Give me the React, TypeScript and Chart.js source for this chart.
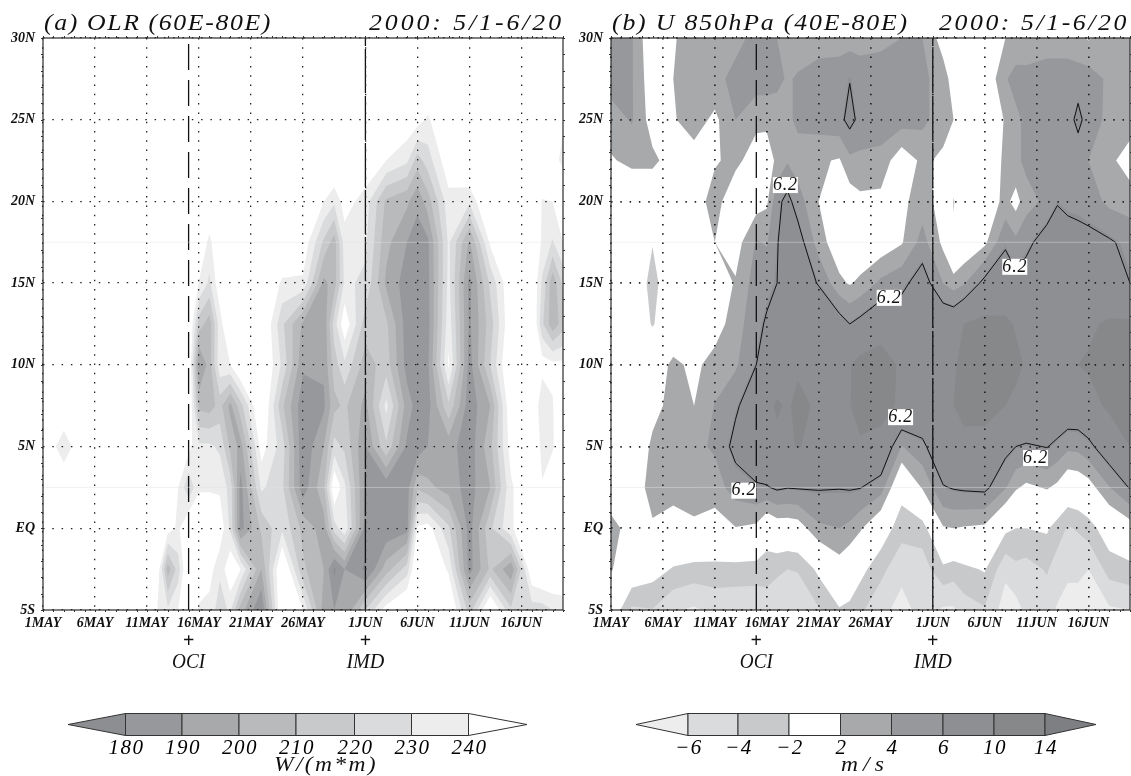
import React, { useEffect, useRef } from "react";
import { Chart, registerables } from "chart.js";

Chart.register(...registerables);

const FONT = '"Liberation Serif"';
const W = 255;

const tickDays = [0, 5, 10, 15, 20, 25, 31, 36, 41, 46];
const tickDates = ["1MAY", "6MAY", "11MAY", "16MAY", "21MAY", "26MAY", "1JUN", "6JUN", "11JUN", "16JUN"];
const latTicks = [30, 25, 20, 15, 10, 5, 0, -5];
const latNames = ["30N", "25N", "20N", "15N", "10N", "5N", "EQ", "5S"];
const lats = [30, 27.5, 25, 22.5, 20, 17.5, 15, 12.5, 10, 7.5, 5, 2.5, 0, -2.5, -5];
const onsetDays = [14, 31];
const onsetNames = ["OCI", "IMD"];
const onsetWidths = [33, 38];

const olrDays = [0, 2, 4, 10, 11, 12, 13, 14, 15, 16, 17, 18, 19, 21, 23, 25, 27, 28, 29, 31, 33, 35, 36, 37, 39, 41, 43, 45, 47, 48, 49, 50];
const olr30 = [W, W, W, W, W, W, W, W, W, W, W, W, W, W, W, W, W, W, W, W, W, W, W, W, W, W, W, W, W, W, W, W];
const olr275 = [W, W, W, W, W, W, W, W, W, W, W, W, W, W, W, W, W, W, W, W, W, W, W, W, W, W, W, W, W, W, W, W];
const olr25 = [W, W, W, W, W, W, W, W, W, W, W, W, W, W, W, W, W, W, W, W, W, 248, 245, 238, W, W, W, W, W, W, W, 241];
const olr225 = [W, W, W, W, W, W, W, W, W, W, W, W, W, W, W, W, W, W, W, 250, 240, 232, 215, 225, 248, W, W, W, W, W, 243, 238];
const olr20 = [W, W, W, W, W, W, W, W, W, W, W, W, W, W, W, 250, 240, 232, 245, 235, 208, 202, 192, 205, 236, 232, W, W, W, 239, 240, 250];
const olr175 = [W, W, W, W, W, W, W, W, W, 236, W, W, W, W, 254, 248, 218, 205, 235, 232, 203, 190, 186, 188, 232, 198, 242, W, W, 238, 229, 240];
const olr15 = [W, W, W, W, W, W, W, W, 239, 228, 248, W, W, W, 238, 238, 197, 205, 232, 228, 198, 185, 184, 187, 233, 187, 222, 250, 252, 228, 203, 222];
const olr125 = [W, W, W, W, W, W, W, W, 215, 205, 235, W, W, W, 222, 198, 192, 225, 248, 215, 212, 185, 183, 186, 236, 188, 215, 250, W, 222, 203, 215];
const olr10 = [W, W, W, W, W, W, W, W, 188, 205, 237, 240, W, W, 228, 192, 192, 215, 228, 205, 215, 186, 184, 188, 242, 186, 220, W, W, 245, 243, 243];
const olr75 = [W, W, W, W, W, W, W, W, 207, 205, 214, 197, 216, W, 212, 183, 188, 207, 212, 197, 233, 195, 186, 186, 218, 184, 200, 250, W, 230, 239, W];
const olr5 = [W, 230.5, W, W, W, W, W, 244, 232, 232, 228, 208, 196, 245, 225, 182, 200, 224, 218, 190, 218, 188, 184, 190, 194, 184, 207, 245, W, 236, 238, W];
const olr25n = [W, W, W, W, W, W, 240, 222, 238, 238, 238, 226, 186, 232, 222, 184, 208, 252, 232, 188, 183, 186, 208, 203, 195, 186, 200, 238, W, 241, W, W];
const olr0 = [W, W, W, W, W, 245, 238, 252, W, W, 248, 228, 186, 212, 228, 207, 195, 225, 238, 186, 182, 186, 242, 245, 222, 186, 218, 238, W, W, 240, W];
const olrS25 = [W, W, W, W, 248, 205, 225, W, 250, 245, 232, 250, 240, 200, W, 212, 200, 178, 190, 178, 205, 225, W, W, 238, 186, 212, 192, 250, W, W, W];
const olrS5 = [W, W, W, W, 240, 232, 240, W, 238, 236, 225, 232, 205, 180, W, 240, 195, 190, 190, 220, 245, W, W, W, W, 215, W, 222, 225, 225, 230, 232];
const olrGrid = [olr30, olr275, olr25, olr225, olr20, olr175, olr15, olr125, olr10, olr75, olr5, olr25n, olr0, olrS25, olrS5];

const uDays = [0, 2, 4, 6, 8, 10, 12, 14, 15, 16, 17, 18, 20, 22, 23, 24, 26, 28, 30, 32, 33, 34, 36, 38, 39, 40, 42, 43, 44, 45, 46, 48, 50];
const u30 = [5, 4.2, 0, 1.8, 3, 3, 3.5, 4.5, 4.5, 4, 3.5, 3, 3, 3, 3, 3, 3.5, 4, 4, 1, 0, 0, 0, 2, 2.5, 2, 3, 3, 3, 2.5, 1.8, 3, 3];
const u275 = [5, 4.2, 0.5, 2, 3.8, 3.5, 4.5, 5, 5, 4.5, 3.8, 4.2, 5, 5.2, 6.1, 5.3, 5, 5, 4.5, 3, 1, 0, 0, 3.8, 4.8, 5, 5, 5, 5, 5, 5, 3.6, 3];
const u25 = [3, 4.2, 1, 1.8, 3, 1.5, 4, 2.5, 2.5, 3, 3.5, 4.5, 5, 5.5, 7, 5.5, 5.2, 5, 4.5, 3, 2, 0.8, 0, 2.2, 3.5, 4.5, 5, 5, 5, 7, 5, 3.5, 3];
const u225 = [1.8, 2.5, 2.5, 1, 1, 1.8, 2.5, 1, 0.8, 2.5, 3.8, 3, 2.3, 1.8, 3.5, 3.5, 3.3, 0.5, 2.5, 1.5, 0, 0, 0, 2.5, 3.5, 4.5, 5, 5, 5, 4.5, 4, 2.5, 1];
const u20 = [0, 0, 0, 0, 1, 2.8, 0.5, 1, 1.6, 5.5, 7, 5, 2, 0.5, 0.8, 1.5, 1.4, 1.5, 3, 1, -2.2, 0, 0.5, 2.6, 1.2, 3.2, 4.5, 6, 5.5, 5.5, 5, 3.5, 3];
const u175 = [0, 0, -1.9, 0, 0.5, 2, 1, 4.2, 3.8, 6, 8, 7.5, 3, 0.5, 0, 0, 0.5, 1.8, 4.8, 1.5, -1.5, 0, 1.5, 5.8, 4.5, 5.5, 7.5, 8, 7.5, 7, 7, 6.5, 5.5];
const u15 = [0, 0, -2.8, 0, 0, 0.5, 2.2, 5, 5.5, 6.2, 8, 8, 6, 2.5, 1.8, 2.5, 4.5, 5.5, 7.5, 4, 3, 3.8, 7, 8, 7, 7.5, 9, 9, 9, 8.5, 8, 7, 6.2];
const u125 = [0, 0, -2.2, 0, 0, 1, 3, 5.5, 6.5, 7.5, 8.5, 9, 9, 7.5, 6.2, 7, 8.5, 8, 9, 8.5, 8.5, 10, 10.8, 10.5, 9.8, 9.5, 9, 9, 9.5, 9.5, 9.5, 10.5, 10.5];
const u10 = [0, 0, 0.5, 2.5, 1.5, 2.8, 3.7, 6.2, 7, 7.5, 8, 9.5, 9.8, 9.3, 9.8, 11, 11.5, 9.5, 9, 9.5, 9.8, 10.5, 11.5, 11, 10.5, 9.8, 9.5, 9.5, 9.8, 10, 10.3, 10.8, 10.8];
const u75 = [0, 0, 1.5, 2.5, 2, 4.1, 5.8, 8, 9, 10.5, 9.6, 10.8, 9.5, 9.5, 9.9, 11, 11, 9.5, 9, 9.5, 10, 11, 11.5, 10, 9.5, 9.5, 9.5, 9, 8.5, 8.5, 9, 10.5, 10.5];
const u5 = [0, 0.5, 2.3, 3, 3.5, 4.3, 7, 9, 9, 9, 9.5, 10.2, 9, 8.5, 8.5, 9.6, 9, 3.9, 5.5, 9, 9, 9, 8.5, 7, 6.2, 5.9, 6.3, 5.5, 4.5, 4.6, 5.5, 8, 10];
const u25n = [0, 1.5, 2.3, 2.8, 2.5, 3, 5, 5.8, 6, 6.6, 6.3, 6.4, 6.4, 6.3, 6.4, 6.3, 5, -1, 2.2, 6, 6.4, 6.6, 6.8, 4.2, 2.3, 1.5, 2.2, 1.5, 0, 0.3, 1, 3.9, 6.4];
const u0 = [3, 0.8, 1.9, 1, 1.8, 1, 1.9, 1.5, -0.5, 0.5, 0.5, 0.8, 3.6, 4, 3.5, 2.3, -0.4, -3.3, -3, 1.8, 2, 1.8, 1.5, -1.5, -2, -2, -1.7, -3, -4.2, -3.8, -3, -0.5, 0.8];
const uS25 = [2.2, 0, -1, -2.2, -2.8, -2.7, -2.8, -2.9, -3.2, -3.6, -4, -3.9, -1.5, 0.9, -0.2, -1.2, -3.5, -5.2, -5, -2.5, -3, -2.5, -1.8, -5.5, -4.5, -4.8, -3.8, -5, -5.5, -5.5, -6, -3.2, -2.7];
const uS5 = [0, -4.4, -4.1, -5.8, -6.3, -5.5, -5.6, -5.6, -5, -5.5, -5.5, -5, -4.2, -2.2, -2.5, -3.7, -5.2, -7, -5, -6.3, -6.3, -5, -4.2, -7, -6.8, -5.5, -5.2, -6.2, -7, -7, -7.5, -6.3, -6];
const uGrid = [u30, u275, u25, u225, u20, u175, u15, u125, u10, u75, u5, u25n, u0, uS25, uS5];

const contourLevel = 6.2;
const contourLabelDays = [16.8, 26.8, 38.9, 27.9, 40.9, 12.8];
const contourLabelLats = [21, 14.1, 16, 6.8, 4.3, 2.3];

const olrBarTicks = ["180", "190", "200", "210", "220", "230", "240"];
const olrBarColors = ["#8d8e91", "#97989b", "#a8a9ab", "#b9babc", "#c8c9cb", "#dadbdd", "#ecedec", "#ffffff"];
const olrBands = [
  { below: 240, color: "#ecedec" }, { below: 230, color: "#dadbdd" }, { below: 220, color: "#c8c9cb" },
  { below: 210, color: "#b9babc" }, { below: 200, color: "#a8a9ab" }, { below: 190, color: "#97989b" },
  { below: 180, color: "#8d8e91" },
];
const uBarTicks = ["-6", "-4", "-2", "2", "4", "6", "10", "14"];
const uBarColors = ["#ecedec", "#dadbdd", "#c8c9cb", "#ffffff", "#a8a9ab", "#97989b", "#8e8f92", "#87888a", "#7e7f82"];
const uBands = [
  { below: -2, color: "#c8c9cb" }, { below: -4, color: "#dadbdd" }, { below: -6, color: "#ecedec" },
  { above: 2, color: "#a8a9ab" }, { above: 4, color: "#97989b" }, { above: 6, color: "#8e8f92" },
  { above: 10, color: "#87888a" }, { above: 14, color: "#7e7f82" },
];

function label(ctx: any, s: string, x: number, y: number, font: string, sx = 1, color = "#111", spacing = 0) {
  ctx.save();
  ctx.font = font;
  ctx.letterSpacing = spacing + "px";
  ctx.textAlign = "center";
  ctx.textBaseline = "middle";
  ctx.fillStyle = color;
  ctx.translate(x, y);
  ctx.scale(sx, 1);
  ctx.fillText(s, 0, 0);
  ctx.restore();
}

function fitted(ctx: any, s: string, x1: number, x2: number, y: number, font: string, maxScale = 1.12) {
  ctx.save();
  ctx.font = font;
  ctx.letterSpacing = "0px";
  const natural = ctx.measureText(s).width;
  const target = x2 - x1;
  const sx = Math.min(maxScale, target / natural);
  const extra = (target / sx - natural) / s.length;
  ctx.letterSpacing = extra + "px";
  ctx.textAlign = "left";
  ctx.textBaseline = "middle";
  ctx.fillStyle = "#111";
  ctx.translate(x1, y);
  ctx.scale(sx, 1);
  ctx.fillText(s, 0, 0);
  ctx.restore();
}

function fillRegion(ctx: any, xs: number[], ys: number[], grid: number[][], test: (v: number) => boolean, level: number) {
  ctx.beginPath();
  for (let j = 0; j < ys.length - 1; j++) {
    for (let i = 0; i < xs.length - 1; i++) {
      const c = [
        [xs[i], ys[j], grid[j][i]], [xs[i + 1], ys[j], grid[j][i + 1]],
        [xs[i + 1], ys[j + 1], grid[j + 1][i + 1]], [xs[i], ys[j + 1], grid[j + 1][i]],
      ];
      const poly: number[][] = [];
      for (let k = 0; k < 4; k++) {
        const a = c[k], b = c[(k + 1) % 4];
        const ia = test(a[2]), ib = test(b[2]);
        if (ia) poly.push([a[0], a[1]]);
        if (ia !== ib) {
          const t = (level - a[2]) / (b[2] - a[2]);
          poly.push([a[0] + t * (b[0] - a[0]), a[1] + t * (b[1] - a[1])]);
        }
      }
      if (poly.length > 2) {
        ctx.moveTo(poly[0][0], poly[0][1]);
        for (let p = 1; p < poly.length; p++) ctx.lineTo(poly[p][0], poly[p][1]);
        ctx.closePath();
      }
    }
  }
  ctx.fill();
}

function strokeContour(ctx: any, xs: number[], ys: number[], grid: number[][], level: number) {
  ctx.beginPath();
  for (let j = 0; j < ys.length - 1; j++) {
    for (let i = 0; i < xs.length - 1; i++) {
      const c = [
        [xs[i], ys[j], grid[j][i]], [xs[i + 1], ys[j], grid[j][i + 1]],
        [xs[i + 1], ys[j + 1], grid[j + 1][i + 1]], [xs[i], ys[j + 1], grid[j + 1][i]],
      ];
      const cross: number[][] = [];
      for (let k = 0; k < 4; k++) {
        const a = c[k], b = c[(k + 1) % 4];
        if (a[2] >= level !== b[2] >= level) {
          const t = (level - a[2]) / (b[2] - a[2]);
          cross.push([a[0] + t * (b[0] - a[0]), a[1] + t * (b[1] - a[1])]);
        }
      }
      for (let p = 0; p + 1 < cross.length; p += 2) {
        ctx.moveTo(cross[p][0], cross[p][1]);
        ctx.lineTo(cross[p + 1][0], cross[p + 1][1]);
      }
    }
  }
  ctx.stroke();
}

function colorBar(ctx: any, o: any) {
  const { stops, colors, ticks, tipL, tipR, unit, unitX } = o;
  const top = 713.5, bot = 735.5, mid = 724.5;
  const off = o.offset;
  const shape = (pts: number[][], col: string) => {
    ctx.beginPath();
    pts.forEach((p, i) => (i ? ctx.lineTo(p[0] - off, p[1]) : ctx.moveTo(p[0] - off, p[1])));
    ctx.closePath();
    ctx.fillStyle = col;
    ctx.fill();
    ctx.strokeStyle = "#333";
    ctx.lineWidth = 1;
    ctx.stroke();
  };
  shape([[tipL, mid], [stops[0], top], [stops[0], bot]], colors[0]);
  for (let i = 0; i < stops.length - 1; i++) {
    shape([[stops[i], top], [stops[i + 1], top], [stops[i + 1], bot], [stops[i], bot]], colors[i + 1]);
  }
  shape([[stops[stops.length - 1], top], [tipR, mid], [stops[stops.length - 1], bot]], colors[colors.length - 1]);
  ticks.forEach((t: string, i: number) => {
    const shown = t.replace("-", "\u2212");
    label(ctx, shown, stops[i] - off + 1, 748, `italic 21px ${FONT}`, 1, "#000", 1.5);
  });
  fitted(ctx, unit, unitX[0] - off, unitX[1] - off, 765, `italic 21px ${FONT}`);
}

function panelOptions(p: any): any {
  const axisFont = { family: FONT, style: "italic", weight: "bold", size: 14 };
  return {
    responsive: false,
    animation: false,
    events: [],
    layout: { padding: { top: 38, right: p.padRight, left: 0, bottom: 0 } },
    plugins: { legend: { display: false }, tooltip: { enabled: false }, title: { display: false } },
    scales: {
      x: {
        type: "linear", min: 0, max: 50,
        afterBuildTicks: (s: any) => { s.ticks = tickDays.map((value) => ({ value })); },
        afterFit: (s: any) => { s.height = 166; s.paddingLeft = 0; s.paddingRight = 0; s.paddingTop = 0; s.paddingBottom = 0; },
        ticks: {
          autoSkip: false, maxRotation: 0, padding: 5, color: "#111", font: axisFont,
          callback: (v: number) => tickDates[tickDays.indexOf(v)],
        },
        grid: { z: 1, color: "#222", lineWidth: p.gridWidth, drawTicks: false },
        border: { display: false, dash: [1.5, 7.8] },
      },
      y: {
        type: "linear", min: -5, max: 30,
        afterBuildTicks: (s: any) => { s.ticks = latTicks.map((value) => ({ value })); },
        afterFit: (s: any) => { s.width = p.plotLeft; s.paddingLeft = 0; s.paddingRight = 0; s.paddingTop = 0; s.paddingBottom = 0; },
        ticks: {
          autoSkip: false, padding: 8, color: "#111", font: axisFont,
          callback: (v: number) => latNames[latTicks.indexOf(v)],
        },
        grid: { z: 1, color: "#222", lineWidth: p.gridWidth, drawTicks: false },
        border: { display: false, dash: [1.5, 7.8] },
      },
    },
  };
}

function panelData(): any {
  const vertical = (d: number, dash: number[]) => ({
    data: [{ x: d, y: -5 }, { x: d, y: 30 }], showLine: true, pointRadius: 0,
    borderColor: "#111", borderWidth: 1.3, borderDash: dash,
  });
  const faint = (lat: number) => ({
    data: [{ x: 0, y: lat }, { x: 50, y: lat }], showLine: true, pointRadius: 0,
    borderColor: "rgba(226,226,226,0.45)", borderWidth: 1,
  });
  return {
    datasets: [faint(17.5), faint(2.5), vertical(onsetDays[0], [26, 10]), vertical(onsetDays[1], [44, 3])],
  };
}

function panelPlugin(p: any): any {
  return {
    id: "panel" + p.id,
    beforeDatasetsDraw(chart: any) {
      const { ctx, chartArea: a, scales } = chart;
      const xs = p.days.map((d: number) => scales.x.getPixelForValue(d));
      const ys = lats.map((l) => scales.y.getPixelForValue(l));
      ctx.save();
      ctx.beginPath();
      ctx.rect(a.left, a.top, a.right - a.left, a.bottom - a.top);
      ctx.clip();
      p.bands.forEach((b: any) => {
        ctx.fillStyle = b.color;
        if (b.below !== undefined) fillRegion(ctx, xs, ys, p.grid, (v) => v < b.below, b.below);
        else fillRegion(ctx, xs, ys, p.grid, (v) => v >= b.above, b.above);
      });
      if (p.level !== undefined) {
        ctx.strokeStyle = "#111";
        ctx.lineWidth = 1;
        strokeContour(ctx, xs, ys, p.grid, p.level);
      }
      ctx.restore();
    },
    afterDraw(chart: any) {
      const { ctx, chartArea: a, scales } = chart;
      if (p.level !== undefined) {
        contourLabelDays.forEach((d, i) => {
          const x = scales.x.getPixelForValue(d), y = scales.y.getPixelForValue(contourLabelLats[i]);
          ctx.fillStyle = "#fff";
          ctx.fillRect(x - 12.5, y - 8, 25, 16);
          label(ctx, String(p.level), x, y, `italic 18px ${FONT}`, 1, "#111", 0.8);
        });
      }
      ctx.strokeStyle = "#333";
      ctx.lineWidth = 1;
      ctx.beginPath();
      for (let d = 0; d <= 50; d++) {
        const x = Math.round(scales.x.getPixelForValue(d)) + 0.5;
        ctx.moveTo(x, a.top - 2); ctx.lineTo(x, a.top);
        ctx.moveTo(x, a.bottom); ctx.lineTo(x, a.bottom + 2);
      }
      for (let l = -5; l <= 30; l++) {
        const y = Math.round(scales.y.getPixelForValue(l)) + 0.5;
        ctx.moveTo(a.left - 2, y); ctx.lineTo(a.left, y);
        ctx.moveTo(a.right, y); ctx.lineTo(a.right + 2, y);
      }
      ctx.stroke();
      ctx.strokeStyle = "#2a2a2a";
      ctx.lineWidth = 1.2;
      ctx.strokeRect(a.left, a.top, a.right - a.left, a.bottom - a.top);

      const tf = `italic 23px ${FONT}`;
      fitted(ctx, p.titleL, p.titleLX[0], p.titleLX[1], 24, tf);
      fitted(ctx, p.titleR, p.titleRX[0], p.titleRX[1], 24, tf);
      onsetDays.forEach((d, i) => {
        const x = scales.x.getPixelForValue(d);
        label(ctx, "+", x, 642, `bold 20px ${FONT}`);
        fitted(ctx, onsetNames[i], x - onsetWidths[i] / 2, x + onsetWidths[i] / 2, 663, `italic 20px ${FONT}`);
      });
      colorBar(ctx, p.bar);
    },
  };
}

const panelA = {
  id: "a", days: olrDays, grid: olrGrid, bands: olrBands, plotLeft: 43, padRight: 7, gridWidth: 1.3,
  titleL: "(a) OLR (60E-80E)", titleLX: [44, 272], titleR: "2000: 5/1-6/20", titleRX: [369, 564],
  bar: {
    offset: 0, stops: [125.5, 182, 239, 296, 354.5, 411.5, 468.5], tipL: 68, tipR: 527,
    colors: olrBarColors, ticks: olrBarTicks, unit: "W/(m*m)", unitX: [274, 378],
  },
};
const panelB = {
  id: "b", days: uDays, grid: uGrid, bands: uBands, level: contourLevel, plotLeft: 41, padRight: 1, gridWidth: 1.7,
  titleL: "(b) U 850hPa (40E-80E)", titleLX: [42, 339], titleR: "2000: 5/1-6/20", titleRX: [369, 559],
  bar: {
    offset: 570, stops: [688, 738, 789, 840.5, 891.5, 943, 994, 1045], tipL: 636, tipR: 1096,
    colors: uBarColors, ticks: uBarTicks, unit: "m/s", unitX: [841, 889],
  },
};

export default function App() {
  const refA = useRef<HTMLCanvasElement>(null);
  const refB = useRef<HTMLCanvasElement>(null);
  useEffect(() => {
    const charts = [
      new Chart(refA.current as any, { type: "scatter", data: panelData(), options: panelOptions(panelA), plugins: [panelPlugin(panelA)] }),
      new Chart(refB.current as any, { type: "scatter", data: panelData(), options: panelOptions(panelB), plugins: [panelPlugin(panelB)] }),
    ];
    return () => charts.forEach((c) => c.destroy());
  }, []);
  return (
    <div style={{ position: "fixed", left: 0, top: 0, width: 1131, height: 776, background: "#fff", overflow: "hidden" }}>
      <canvas ref={refA} width={570} height={776} style={{ position: "absolute", left: 0, top: 0, width: 570, height: 776 }} />
      <canvas ref={refB} width={561} height={776} style={{ position: "absolute", left: 570, top: 0, width: 561, height: 776 }} />
    </div>
  );
}
